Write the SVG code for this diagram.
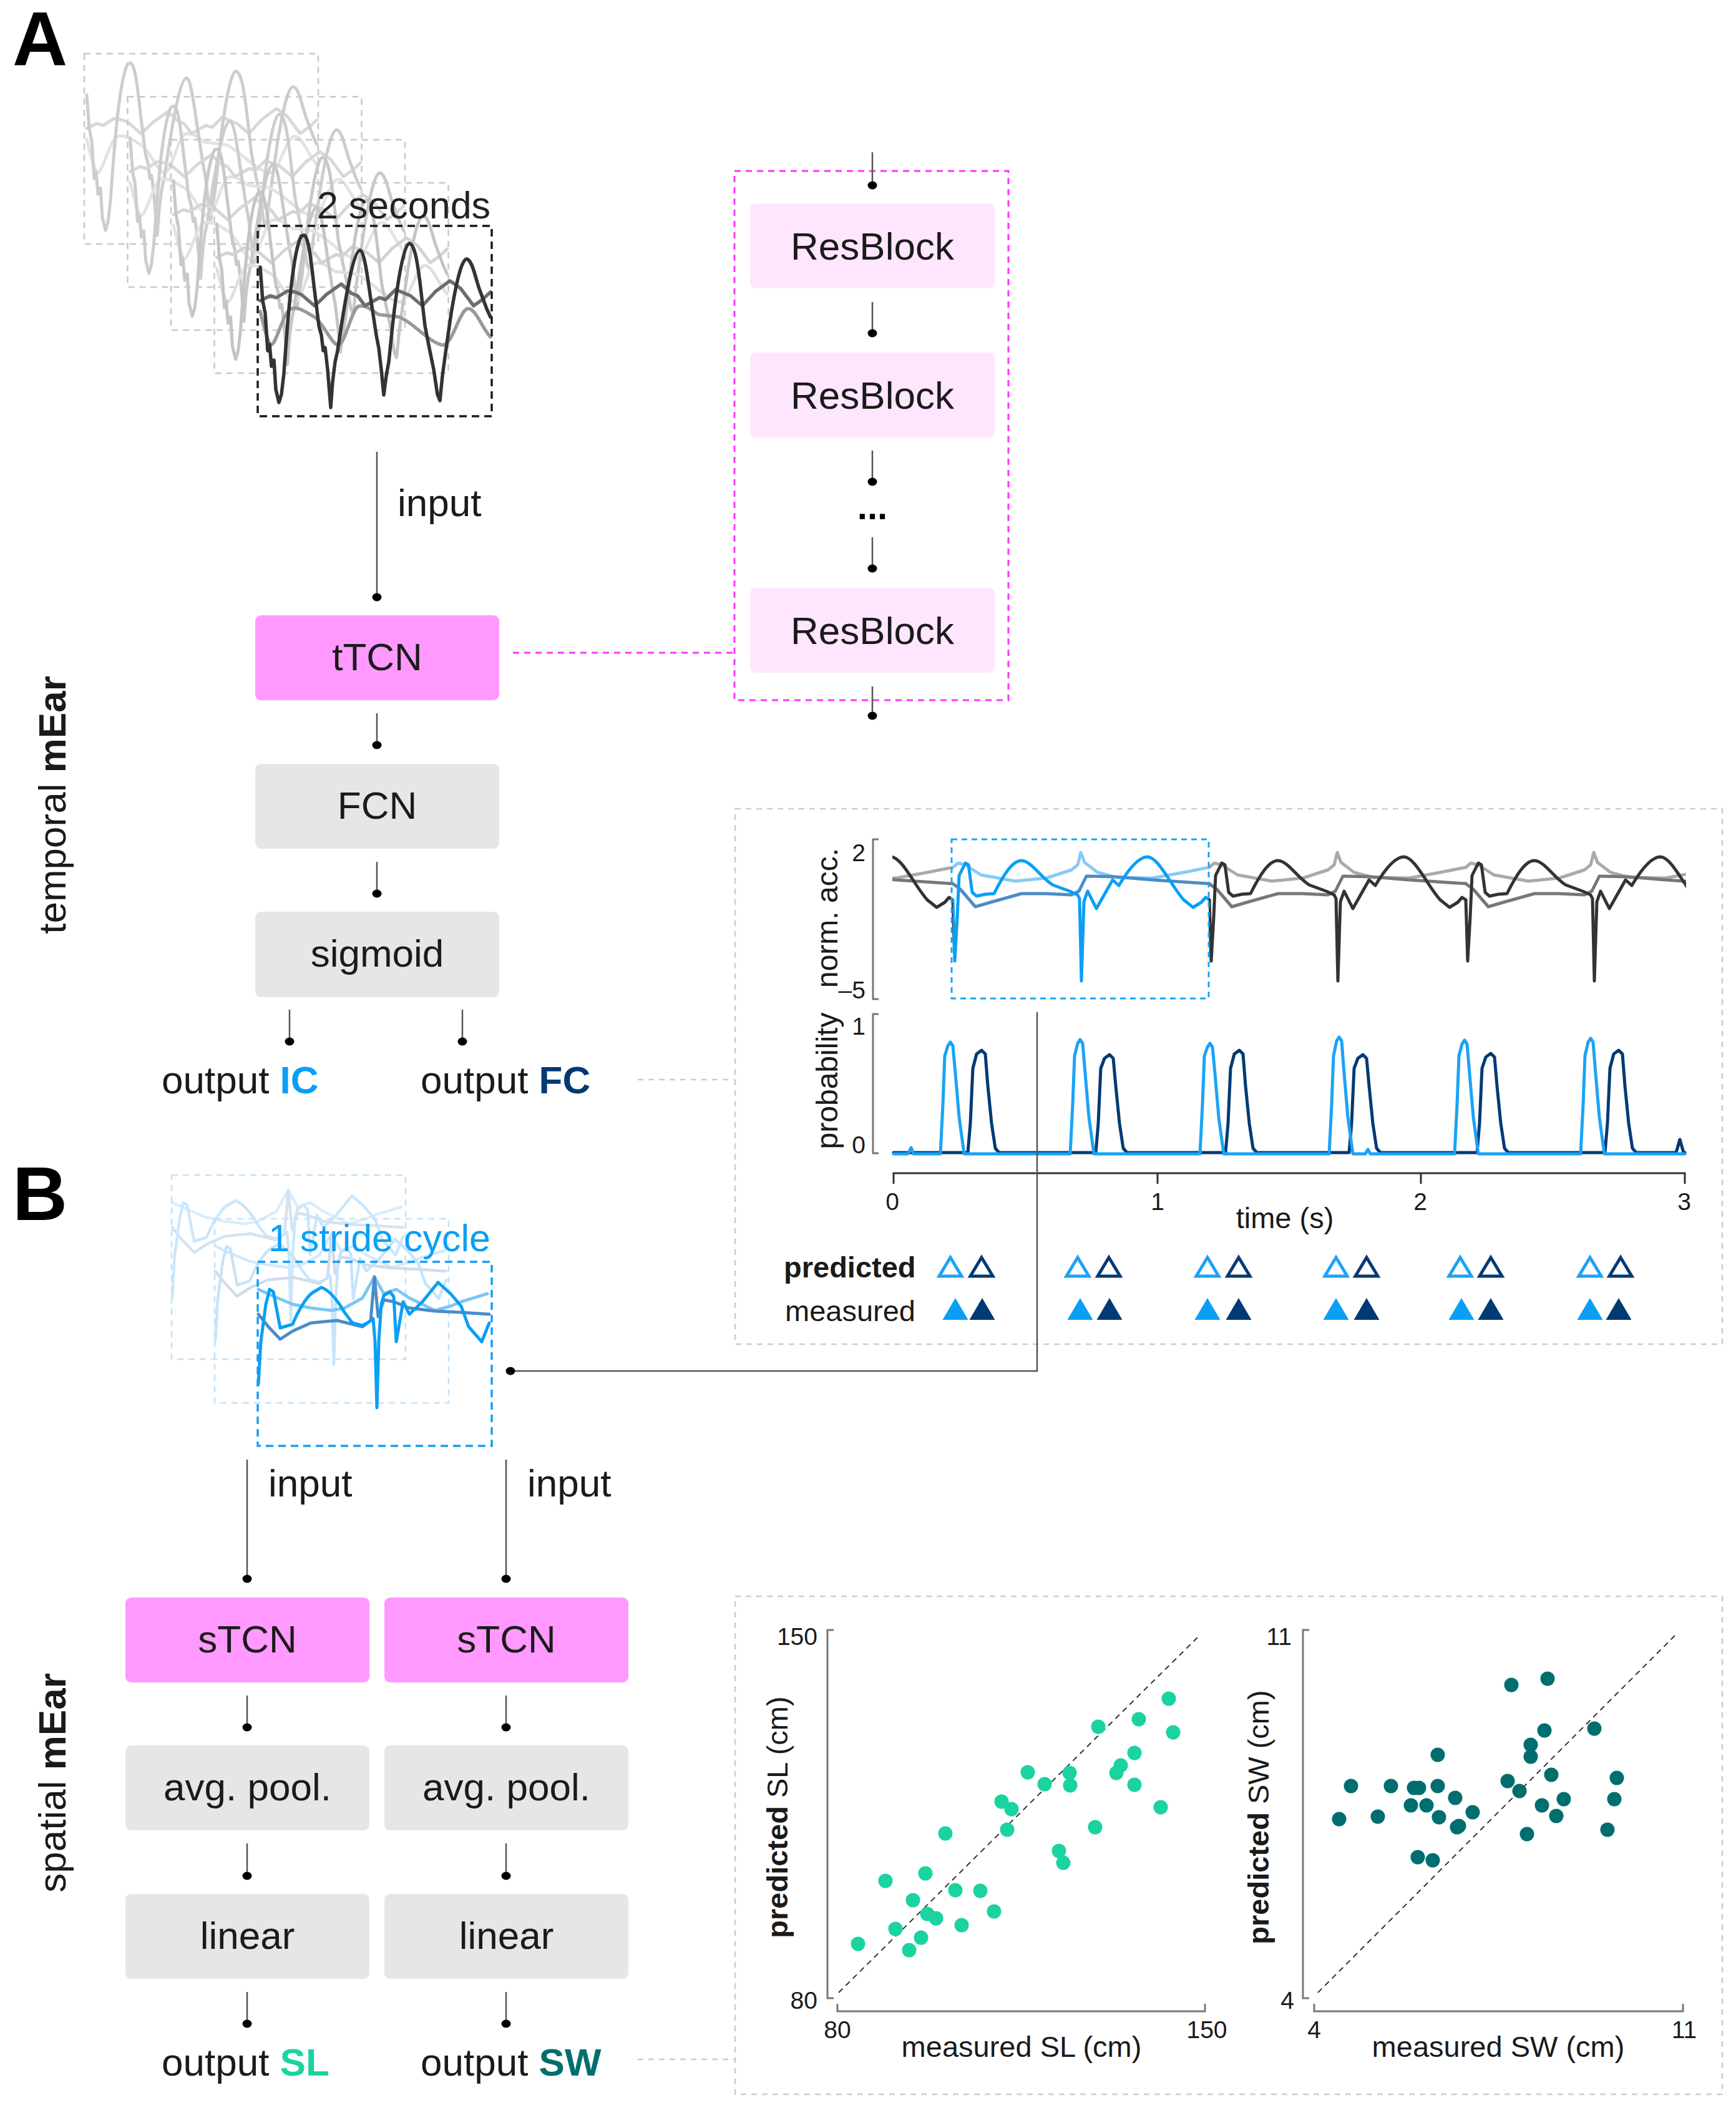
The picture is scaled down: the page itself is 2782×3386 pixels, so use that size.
<svg xmlns="http://www.w3.org/2000/svg" xmlns:xlink="http://www.w3.org/1999/xlink" width="2782" height="3386" viewBox="0 0 2782 3386">
<style>
text{font-family:"Liberation Sans",Arial,Helvetica,sans-serif;fill:#1a1a1a}
.big{font-size:122px;font-weight:bold;fill:#000}
.lbl{font-size:62px}
.nt{font-size:62px;text-anchor:middle}
.tk{font-size:39px}
.at{font-size:47px}
.pink{fill:#ff99ff}
.grey{fill:#e6e6e6}
.lpink{fill:#ffe6ff}
.conn{stroke:#555;stroke-width:2.5;fill:none}
.ax{stroke:#777;stroke-width:3;fill:none}
.panel{fill:none;stroke:#cccccc;stroke-width:2.5;stroke-dasharray:9 8}
.tr{fill:none;stroke-linejoin:round;stroke-linecap:round}
.wb{fill:none;stroke:#c8c8c8;stroke-width:2.5;stroke-dasharray:10 8}
.wf{fill:none;stroke:#1a1a1a;stroke-width:3.5;stroke-dasharray:12 8}
.wbb{fill:none;stroke:#c2e2fb;stroke-width:2.5;stroke-dasharray:10 8}
.wfb{fill:none;stroke:#149ff5;stroke-width:3.5;stroke-dasharray:12 8}
.ic{fill:#0a9ff5}
.fc{fill:#003a73}
.sl{fill:#1ad3a0}
.sw{fill:#006e6e}
</style>
<defs>
<marker id="dot" markerUnits="userSpaceOnUse" markerWidth="18" markerHeight="18" refX="9" refY="9" viewBox="0 0 18 18"><ellipse cx="9" cy="9" rx="7.5" ry="6.5" fill="#000"/></marker>
<path id="sd" class="tr" d="M4,66 L8,120 L12,140 L16,200 L19,190 L22,225 L26,215 L29,262 L34,283 L38,270 L42,236 C48,150 56,40 70,16 L75,15 C82,20 86,60 90,95 L98,160 L102,175 L105,200 L108,195 L112,230 L117,291 L120,250 L124,218 L128,200 L134,160 C145,90 155,40 164,39 C172,40 178,100 183,129 L190,175 L194,196 L198,230 L202,271 L206,240 L210,218 L216,160 C225,80 235,28 243,28 C252,30 256,60 260,90 L268,160 L275,196 L282,230 L288,270 L292,280 L296,240 L302,196 L310,140 C320,80 328,53 335,53 C345,55 350,90 357,106 L367,133 L373,146"/>
<path id="sm" class="tr" d="M4,120 L20,112 L30,115 L48,104 L60,106 L70,110 L91,128 L100,120 L110,110 L134,93 L150,108 L160,112 L172,128 L195,115 L205,118 L221,102 L245,112 L264,128 L285,105 L308,88 L325,100 L346,128 L360,118 L373,106"/>
<path id="sl" class="tr" d="M4,137 C10,160 15,185 21,191 C30,190 40,140 53,133 C65,128 80,140 91,146 C105,155 118,190 129,191 C140,190 150,135 161,129 C175,125 185,138 194,142 L227,146 C250,155 275,188 297,191 C312,190 322,140 335,133 C348,128 360,165 373,178"/>
<path id="pD" class="tr" d="M0,1442 L3,1540 L7,1470 L10,1403 L20,1383 L25,1386 L31,1430 L38,1436 L52,1433 L66,1432 C82,1400 96,1379 110,1379 C126,1380 140,1405 160,1418 L187,1428 L200,1434 L203,1440 L206,1572 L210,1445 L216,1428 L230,1456 L256,1410 L266,1419 C282,1392 298,1373 312,1373 C330,1374 350,1420 370,1442 L385,1454 L398,1446 L405,1438 L411,1442"/>
<path id="pM" class="tr" d="M0,1416 L12,1425 L36,1453 L60,1446 L110,1432 L150,1432 L190,1434 L202,1428 L214,1404 L260,1405 L320,1410 L380,1414 L411,1416"/>
<path id="pL" class="tr" d="M0,1390 L8,1383 L20,1386 L45,1402 L100,1412 L150,1407 L190,1394 L200,1386 L205,1366 L211,1382 L232,1398 L262,1406 L320,1407 L370,1398 L400,1392 L411,1390"/>
<path id="b1" class="tr" d="M414,2218 L418,2150 L426,2090 L432,2066 L438,2070 L449,2128 L469,2122 C478,2100 490,2080 500,2072 L515,2063 C530,2068 545,2090 552,2103 L565,2120 L581,2124 L592,2118 L598,2113 L601,2150 L604,2256 L607,2150 L611,2090 L615,2076 L625,2070 L631,2078 L635,2150 L646,2086 L656,2106 L677,2086 L702,2055 L722,2073 L739,2093 L751,2126 L772,2150 L784,2120"/>
<path id="b2" class="tr" d="M414,2106 L430,2126 L449,2146 L469,2133 L498,2120 L540,2116 L581,2126 L594,2116 L600,2046 L606,2110 L615,2083 L631,2086 L656,2096 L697,2101 L739,2103 L784,2106"/>
<path id="b3" class="tr" d="M414,2066 L440,2078 L469,2090 L498,2096 L532,2100 L552,2096 L581,2080 L600,2046 L615,2073 L635,2066 L656,2080 L697,2100 L722,2093 L739,2086 L781,2073"/>
<path id="triO" d="M0,-15 L18,15 L-18,15 Z"/>
<path id="triF" d="M0,-17.5 L20.5,17.5 L-20.5,17.5 Z"/>
<clipPath id="cpGray"><rect x="1430" y="1300" width="97" height="320"/><rect x="1937" y="1300" width="765" height="320"/></clipPath>
<clipPath id="cpBlue"><rect x="1527" y="1300" width="410" height="320"/></clipPath>
</defs>

<rect width="2782" height="3386" fill="#fff"/>

<!-- panel labels -->
<text class="big" x="20" y="105">A</text>
<text class="big" x="20" y="1955">B</text>
<text class="lbl" transform="translate(105,1290) rotate(-90)" text-anchor="middle">temporal <tspan font-weight="bold">mEar</tspan></text>
<text class="lbl" transform="translate(105,2857) rotate(-90)" text-anchor="middle">spatial <tspan font-weight="bold">mEar</tspan></text>

<!-- A: 2-second windows -->
<g id="windows-2s">
  <g transform="translate(135,86)"><use href="#sl" stroke="#e3e3e3" stroke-width="5"/><use href="#sm" stroke="#d8d8d8" stroke-width="5"/><use href="#sd" stroke="#cdcdcd" stroke-width="5"/><rect class="wb" width="375" height="305"/></g>
  <g transform="translate(204.5,155)"><use href="#sl" stroke="#e3e3e3" stroke-width="5"/><use href="#sm" stroke="#d8d8d8" stroke-width="5"/><use href="#sd" stroke="#cdcdcd" stroke-width="5"/><rect class="wb" width="375" height="305"/></g>
  <g transform="translate(274,224)"><use href="#sl" stroke="#e3e3e3" stroke-width="5"/><use href="#sm" stroke="#d6d6d6" stroke-width="5"/><use href="#sd" stroke="#c8c8c8" stroke-width="5"/><rect class="wb" width="375" height="305"/></g>
  <g transform="translate(343.5,293)"><use href="#sl" stroke="#e0e0e0" stroke-width="5"/><use href="#sm" stroke="#d3d3d3" stroke-width="5"/><use href="#sd" stroke="#c4c4c4" stroke-width="5"/><rect class="wb" width="375" height="305"/></g>
  <g transform="translate(413,362)"><use href="#sl" stroke="#9a9a9a" stroke-width="5.5"/><use href="#sm" stroke="#6e6e6e" stroke-width="5.5"/><use href="#sd" stroke="#333" stroke-width="5.5"/><rect class="wf" width="375" height="305"/></g>
  <text x="508" y="350" style="font-size:61px;fill:#222">2 seconds</text>
</g>

<!-- A: nodes -->
<g id="node-tTCN"><rect class="pink" x="409" y="986" width="391" height="136" rx="9"/><text class="nt" x="604.5" y="1074">tTCN</text></g>
<g id="node-FCN"><rect class="grey" x="409" y="1224" width="391" height="136" rx="9"/><text class="nt" x="604.5" y="1312">FCN</text></g>
<g id="node-sigmoid"><rect class="grey" x="409" y="1461" width="391" height="137" rx="9"/><text class="nt" x="604.5" y="1549">sigmoid</text></g>
<g id="node-tcn-detail">
  <rect x="1177" y="274" width="439" height="848" fill="none" stroke="#ff33ff" stroke-width="3" stroke-dasharray="10 8"/>
  <g id="node-resblock1"><rect class="lpink" x="1202" y="326" width="392" height="136" rx="9"/><text class="nt" x="1398" y="416">ResBlock</text></g>
  <g id="node-resblock2"><rect class="lpink" x="1202" y="565" width="392" height="136" rx="9"/><text class="nt" x="1398" y="655">ResBlock</text></g>
  <text x="1398" y="832" text-anchor="middle" style="font-size:58px;font-weight:bold;fill:#000">...</text>
  <g id="node-resblock3"><rect class="lpink" x="1202" y="942" width="392" height="136" rx="9"/><text class="nt" x="1398" y="1032">ResBlock</text></g>
</g>
<g id="node-outIC"><text class="lbl" x="259" y="1752">output <tspan font-weight="bold" class="ic">IC</tspan></text></g>
<g id="node-outFC"><text class="lbl" x="674" y="1752">output <tspan font-weight="bold" class="fc">FC</tspan></text></g>

<!-- A: plot panel -->
<g id="plot-temporal">
  <rect class="panel" x="1178" y="1296" width="1582" height="858"/>
  <path class="ax" d="M1408,1345 H1399 V1601 H1408"/>
  <text class="tk" x="1387" y="1380" text-anchor="end">2</text>
  <text class="tk" x="1387" y="1600" text-anchor="end">–5</text>
  <text transform="translate(1342,1471) rotate(-90)" text-anchor="middle" style="font-size:48px">norm. acc.</text>
  <g clip-path="url(#cpGray)">
    <g stroke="#aaaaaa" stroke-width="5"><use href="#pL" x="1116"/><use href="#pL" x="1527"/><use href="#pL" x="1938"/><use href="#pL" x="2349"/></g>
    <g stroke="#777777" stroke-width="5"><use href="#pM" x="1116"/><use href="#pM" x="1527"/><use href="#pM" x="1938"/><use href="#pM" x="2349"/></g>
    <g stroke="#333333" stroke-width="5"><use href="#pD" x="1116"/><use href="#pD" x="1527"/><use href="#pD" x="1938"/><use href="#pD" x="2349"/></g>
  </g>
  <g clip-path="url(#cpBlue)">
    <use href="#pL" x="1527" stroke="#86cbf8" stroke-width="5"/>
    <use href="#pM" x="1527" stroke="#4a8cc8" stroke-width="5"/>
    <use href="#pD" x="1527" stroke="#0a9ff5" stroke-width="5"/>
  </g>
  <rect x="1525" y="1345" width="412" height="255" fill="none" stroke="#1aa3f5" stroke-width="3" stroke-dasharray="9 7"/>
  <path class="ax" d="M1408,1625 H1399 V1848 H1408"/>
  <text class="tk" x="1387" y="1658" text-anchor="end">1</text>
  <text class="tk" x="1387" y="1848" text-anchor="end">0</text>
  <text transform="translate(1342,1732) rotate(-90)" text-anchor="middle" style="font-size:48px">probability</text>
  <path class="tr" stroke="#003a73" stroke-width="5" d="M1432,1847 L1551,1847 L1555,1800 L1559,1712 L1565,1689 L1573,1683 L1579,1689 L1583,1740 L1589,1800 L1595,1840 L1601,1847 L1756,1847 L1760,1800 L1764,1712 L1770,1696 L1778,1690 L1784,1696 L1788,1740 L1794,1800 L1800,1840 L1806,1847 L1964,1847 L1968,1800 L1972,1712 L1978,1689 L1986,1683 L1992,1689 L1996,1740 L2002,1800 L2008,1840 L2014,1847 L2162,1847 L2166,1800 L2170,1712 L2176,1696 L2184,1690 L2190,1696 L2194,1740 L2200,1800 L2206,1840 L2212,1847 L2367,1847 L2371,1800 L2375,1712 L2381,1694 L2389,1688 L2395,1694 L2399,1740 L2405,1800 L2411,1840 L2417,1847 L2572,1847 L2576,1800 L2580,1712 L2586,1689 L2594,1683 L2600,1689 L2604,1740 L2610,1800 L2616,1840 L2622,1847 L2686,1847 L2692,1826 L2698,1847 L2700,1847"/>
  <path class="tr" stroke="#1aa3f5" stroke-width="5" d="M1432,1849 L1455,1849 L1460,1839 L1464,1849 L1507,1849 L1511,1770 L1514,1692 L1519,1676 L1523,1670 L1527,1676 L1531,1720 L1537,1790 L1545,1849 L1715,1849 L1719,1770 L1722,1692 L1727,1672 L1731,1666 L1735,1672 L1739,1720 L1745,1790 L1753,1849 L1923,1849 L1927,1770 L1930,1692 L1935,1678 L1939,1672 L1943,1678 L1947,1720 L1953,1790 L1961,1849 L2130,1849 L2134,1770 L2137,1692 L2142,1668 L2146,1662 L2150,1668 L2154,1720 L2160,1790 L2168,1849 L2188,1849 L2192,1842 L2196,1849 L2331,1849 L2335,1770 L2338,1692 L2343,1673 L2347,1667 L2351,1673 L2355,1720 L2361,1790 L2369,1849 L2533,1849 L2537,1770 L2540,1692 L2545,1670 L2549,1664 L2553,1670 L2557,1720 L2563,1790 L2571,1849 L2700,1849"/>
  <path d="M1432,1897 V1880 H2700 V1897 M1855,1880 V1897 M2277,1880 V1897" fill="none" stroke="#333" stroke-width="3"/>
  <text class="tk" x="1430" y="1939" text-anchor="middle">0</text>
  <text class="tk" x="1855" y="1939" text-anchor="middle">1</text>
  <text class="tk" x="2276" y="1939" text-anchor="middle">2</text>
  <text class="tk" x="2699" y="1939" text-anchor="middle">3</text>
  <text x="2059" y="1968" text-anchor="middle" style="font-size:47px">time (s)</text>
  <text x="1256" y="2047" style="font-size:47px;font-weight:bold">predicted</text>
  <text x="1258" y="2117" style="font-size:47px">measured</text>
  <g fill="none" stroke-width="5" stroke-linejoin="miter">
    <g stroke="#1aa3f5"><use href="#triO" x="1523" y="2030"/><use href="#triO" x="1727" y="2030"/><use href="#triO" x="1935" y="2030"/><use href="#triO" x="2141" y="2030"/><use href="#triO" x="2340" y="2030"/><use href="#triO" x="2548" y="2030"/></g>
    <g stroke="#003a73"><use href="#triO" x="1573" y="2030"/><use href="#triO" x="1777" y="2030"/><use href="#triO" x="1985" y="2030"/><use href="#triO" x="2190" y="2030"/><use href="#triO" x="2389" y="2030"/><use href="#triO" x="2597" y="2030"/></g>
  </g>
  <g class="ic"><use href="#triF" x="1531" y="2097.5"/><use href="#triF" x="1731" y="2097.5"/><use href="#triF" x="1935" y="2097.5"/><use href="#triF" x="2141" y="2097.5"/><use href="#triF" x="2342" y="2097.5"/><use href="#triF" x="2548" y="2097.5"/></g>
  <g class="fc"><use href="#triF" x="1574" y="2097.5"/><use href="#triF" x="1778" y="2097.5"/><use href="#triF" x="1985" y="2097.5"/><use href="#triF" x="2190" y="2097.5"/><use href="#triF" x="2389" y="2097.5"/><use href="#triF" x="2594" y="2097.5"/></g>
</g>

<!-- B: stride-cycle windows -->
<g id="windows-stride">
  <g transform="translate(-138,-139)"><use href="#b3" stroke="#d8edfc" stroke-width="4.5"/><use href="#b2" stroke="#d5e3f0" stroke-width="4.5"/><use href="#b1" stroke="#cbe7fb" stroke-width="4.5"/><rect class="wbb" x="413" y="2022" width="375" height="295"/></g>
  <g transform="translate(-69,-69)"><use href="#b3" stroke="#d2eafc" stroke-width="4.5"/><use href="#b2" stroke="#d0dcea" stroke-width="4.5"/><use href="#b1" stroke="#c6e4fb" stroke-width="4.5"/><rect class="wbb" x="413" y="2022" width="375" height="295"/></g>
  <text x="430" y="2005" style="font-size:61px;fill:#0a9ff5">1 stride cycle</text>
  <use href="#b3" stroke="#7cc6f7" stroke-width="5"/>
  <use href="#b2" stroke="#4a8cc8" stroke-width="5"/>
  <use href="#b1" stroke="#0a9ff5" stroke-width="5"/>
  <rect class="wfb" x="413" y="2022" width="375" height="295"/>
</g>

<!-- B: nodes -->
<g id="node-sTCN-SL"><rect class="pink" x="201" y="2560" width="391" height="136" rx="9"/><text class="nt" x="396.5" y="2648">sTCN</text></g>
<g id="node-sTCN-SW"><rect class="pink" x="616" y="2560" width="391" height="136" rx="9"/><text class="nt" x="811.5" y="2648">sTCN</text></g>
<g id="node-pool-SL"><rect class="grey" x="201" y="2797" width="391" height="136" rx="9"/><text class="nt" x="396.5" y="2885">avg. pool.</text></g>
<g id="node-pool-SW"><rect class="grey" x="616" y="2797" width="391" height="136" rx="9"/><text class="nt" x="811.5" y="2885">avg. pool.</text></g>
<g id="node-linear-SL"><rect class="grey" x="201" y="3035" width="391" height="136" rx="9"/><text class="nt" x="396.5" y="3123">linear</text></g>
<g id="node-linear-SW"><rect class="grey" x="616" y="3035" width="391" height="136" rx="9"/><text class="nt" x="811.5" y="3123">linear</text></g>
<g id="node-outSL"><text class="lbl" x="259" y="3326">output <tspan font-weight="bold" class="sl">SL</tspan></text></g>
<g id="node-outSW"><text class="lbl" x="674" y="3326">output <tspan font-weight="bold" class="sw">SW</tspan></text></g>

<!-- B: scatter panel -->
<g id="plot-spatial">
  <rect class="panel" x="1178" y="2558" width="1582" height="798"/>
  <path class="ax" d="M1336,2612 H1326 V3202 H1336 M1342,3211 V3223 H1931 V3211"/>
  <line x1="1344" y1="3193" x2="1924" y2="2619" stroke="#333" stroke-width="2" stroke-dasharray="9 7"/>
  <text class="tk" x="1310" y="2636" text-anchor="end">150</text>
  <text class="tk" x="1310" y="3219" text-anchor="end">80</text>
  <text class="tk" x="1342" y="3266" text-anchor="middle">80</text>
  <text class="tk" x="1934" y="3266" text-anchor="middle">150</text>
  <text class="at" x="1637" y="3296" text-anchor="middle">measured SL (cm)</text>
  <text class="at" transform="translate(1262,2912) rotate(-90)" text-anchor="middle"><tspan font-weight="bold">predicted</tspan> SL (cm)</text>
  <g class="sl">
    <circle cx="1375" cy="3115" r="11.5"/><circle cx="1419" cy="3014" r="11.5"/><circle cx="1435" cy="3091" r="11.5"/><circle cx="1457" cy="3125" r="11.5"/><circle cx="1463" cy="3045" r="11.5"/><circle cx="1476" cy="3105" r="11.5"/><circle cx="1483" cy="3002" r="11.5"/><circle cx="1486" cy="3067" r="11.5"/><circle cx="1500" cy="3074" r="11.5"/><circle cx="1515" cy="2938" r="11.5"/><circle cx="1531" cy="3029" r="11.5"/><circle cx="1541" cy="3085" r="11.5"/><circle cx="1571" cy="3030" r="11.5"/><circle cx="1593" cy="3063" r="11.5"/><circle cx="1605" cy="2887" r="11.5"/><circle cx="1614" cy="2932" r="11.5"/><circle cx="1621" cy="2899" r="11.5"/><circle cx="1647" cy="2840" r="11.5"/><circle cx="1674" cy="2859" r="11.5"/><circle cx="1697" cy="2966" r="11.5"/><circle cx="1704" cy="2985" r="11.5"/><circle cx="1714" cy="2841" r="11.5"/><circle cx="1715" cy="2861" r="11.5"/><circle cx="1755" cy="2928" r="11.5"/><circle cx="1760" cy="2767" r="11.5"/><circle cx="1789" cy="2841" r="11.5"/><circle cx="1796" cy="2829" r="11.5"/><circle cx="1818" cy="2809" r="11.5"/><circle cx="1818" cy="2860" r="11.5"/><circle cx="1825" cy="2755" r="11.5"/><circle cx="1860" cy="2896" r="11.5"/><circle cx="1873" cy="2722" r="11.5"/><circle cx="1880" cy="2776" r="11.5"/>
  </g>
  <path class="ax" d="M2098,2612 H2088 V3202 H2098 M2106,3211 V3223 H2697 V3211"/>
  <line x1="2112" y1="3193" x2="2686" y2="2619" stroke="#333" stroke-width="2" stroke-dasharray="9 7"/>
  <text class="tk" x="2070" y="2636" text-anchor="end">11</text>
  <text class="tk" x="2074" y="3219" text-anchor="end">4</text>
  <text class="tk" x="2106" y="3266" text-anchor="middle">4</text>
  <text class="tk" x="2699" y="3266" text-anchor="middle">11</text>
  <text class="at" x="2401" y="3296" text-anchor="middle">measured SW (cm)</text>
  <text class="at" transform="translate(2033,2912) rotate(-90)" text-anchor="middle"><tspan font-weight="bold">predicted</tspan> SW (cm)</text>
  <g class="sw">
    <circle cx="2146" cy="2915" r="11.5"/><circle cx="2165" cy="2862" r="11.5"/><circle cx="2208" cy="2911" r="11.5"/><circle cx="2229" cy="2862" r="11.5"/><circle cx="2261" cy="2893" r="11.5"/><circle cx="2266" cy="2865" r="11.5"/><circle cx="2272" cy="2976" r="11.5"/><circle cx="2274" cy="2865" r="11.5"/><circle cx="2286" cy="2893" r="11.5"/><circle cx="2296" cy="2981" r="11.5"/><circle cx="2304" cy="2812" r="11.5"/><circle cx="2304" cy="2862" r="11.5"/><circle cx="2306" cy="2912" r="11.5"/><circle cx="2332" cy="2881" r="11.5"/><circle cx="2335" cy="2928" r="11.5"/><circle cx="2338" cy="2926" r="11.5"/><circle cx="2360" cy="2904" r="11.5"/><circle cx="2416" cy="2854" r="11.5"/><circle cx="2422" cy="2700" r="11.5"/><circle cx="2435" cy="2870" r="11.5"/><circle cx="2447" cy="2939" r="11.5"/><circle cx="2453" cy="2796" r="11.5"/><circle cx="2453" cy="2815" r="11.5"/><circle cx="2471" cy="2893" r="11.5"/><circle cx="2475" cy="2773" r="11.5"/><circle cx="2480" cy="2690" r="11.5"/><circle cx="2486" cy="2844" r="11.5"/><circle cx="2494" cy="2910" r="11.5"/><circle cx="2506" cy="2883" r="11.5"/><circle cx="2555" cy="2770" r="11.5"/><circle cx="2576" cy="2932" r="11.5"/><circle cx="2587" cy="2883" r="11.5"/><circle cx="2591" cy="2849" r="11.5"/>
  </g>
</g>

<!-- connectors -->
<g id="connectors">
  <line class="conn" x1="604" y1="724" x2="604" y2="957" marker-end="url(#dot)"/>
  <text class="lbl" x="637" y="827">input</text>
  <line class="conn" x1="604" y1="1143" x2="604" y2="1194" marker-end="url(#dot)"/>
  <line class="conn" x1="604" y1="1381" x2="604" y2="1432" marker-end="url(#dot)"/>
  <line class="conn" x1="464" y1="1618" x2="464" y2="1669" marker-end="url(#dot)"/>
  <line class="conn" x1="741" y1="1618" x2="741" y2="1669" marker-end="url(#dot)"/>
  <line class="conn" x1="1398" y1="244" x2="1398" y2="297" marker-end="url(#dot)"/>
  <line class="conn" x1="1398" y1="484" x2="1398" y2="534" marker-end="url(#dot)"/>
  <line class="conn" x1="1398" y1="722" x2="1398" y2="772" marker-end="url(#dot)"/>
  <line class="conn" x1="1398" y1="861" x2="1398" y2="911" marker-end="url(#dot)"/>
  <line class="conn" x1="1398" y1="1100" x2="1398" y2="1147" marker-end="url(#dot)"/>
  <line x1="822" y1="1046" x2="1177" y2="1046" stroke="#ff33ff" stroke-width="3" stroke-dasharray="10 8"/>
  <line x1="1022" y1="1730" x2="1177" y2="1730" stroke="#cccccc" stroke-width="2.5" stroke-dasharray="9 8"/>
  <polyline class="conn" points="1662,1622 1662,2197 818,2197" marker-end="url(#dot)"/>
  <line class="conn" x1="396" y1="2339" x2="396" y2="2530" marker-end="url(#dot)"/>
  <text class="lbl" x="430" y="2398">input</text>
  <line class="conn" x1="811" y1="2339" x2="811" y2="2530" marker-end="url(#dot)"/>
  <text class="lbl" x="845" y="2398">input</text>
  <line class="conn" x1="396" y1="2717" x2="396" y2="2768" marker-end="url(#dot)"/>
  <line class="conn" x1="811" y1="2717" x2="811" y2="2768" marker-end="url(#dot)"/>
  <line class="conn" x1="396" y1="2954" x2="396" y2="3006" marker-end="url(#dot)"/>
  <line class="conn" x1="811" y1="2954" x2="811" y2="3006" marker-end="url(#dot)"/>
  <line class="conn" x1="396" y1="3192" x2="396" y2="3243" marker-end="url(#dot)"/>
  <line class="conn" x1="811" y1="3192" x2="811" y2="3243" marker-end="url(#dot)"/>
  <line x1="1022" y1="3300" x2="1177" y2="3300" stroke="#cccccc" stroke-width="2.5" stroke-dasharray="9 8"/>
</g>
</svg>
